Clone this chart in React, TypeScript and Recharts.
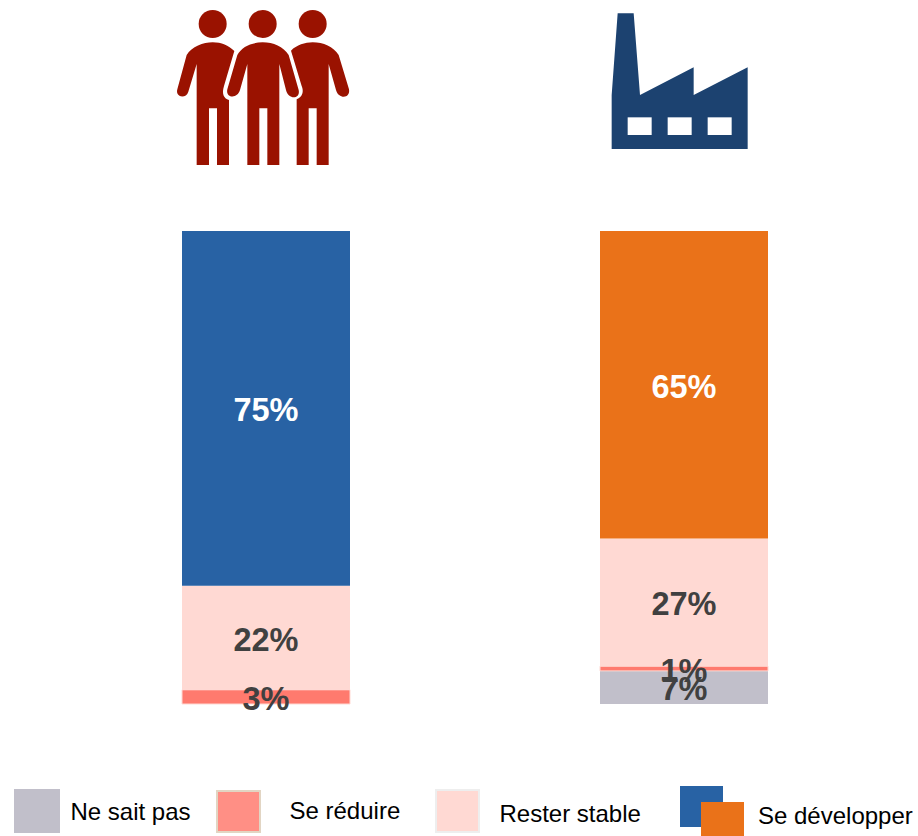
import React from "react";
import { BarChart, Bar, XAxis, YAxis, Cell, LabelList } from "recharts";

const categories = ["Population", "Entreprises"];
const neSaitPas = [0, 7];
const seReduire = [3, 1];
const resterStable = [22, 27];
const seDevelopper = [75, 65];
const developperColors = ["#2862A4", "#EA7219"];

const rows = categories.map((name, i) => ({
  name,
  neSaitPas: neSaitPas[i],
  seReduire: seReduire[i],
  resterStable: resterStable[i],
  seDevelopper: seDevelopper[i],
}));

const FONT = "'Liberation Sans', Arial, sans-serif";
const fmt = (v: any) => (v ? `${v}%` : "");
const labelStyle = { fontFamily: FONT, fontSize: 32.5, fontWeight: 700, transform: "translateY(1.5px)" };

function Label({ dataKey, fill }: { dataKey: string; fill: string }) {
  return (
    <LabelList
      dataKey={dataKey}
      position="center"
      formatter={fmt}
      fill={fill}
      style={labelStyle}
    />
  );
}

function Swatch({ left, top, w, h, bg, border }: any) {
  return (
    <div
      style={{
        position: "absolute",
        left,
        top,
        width: w,
        height: h,
        background: bg,
        boxSizing: "border-box",
        border: border ? `2px solid ${border}` : "none",
      }}
    />
  );
}

function Txt({ left, baseline, children }: any) {
  return (
    <div
      style={{
        position: "absolute",
        left,
        top: baseline - 22,
        fontFamily: FONT,
        fontSize: 24,
        lineHeight: "28px",
        color: "#000",
        whiteSpace: "nowrap",
      }}
    >
      {children}
    </div>
  );
}

function Icons() {
  const red = "#9A1200";
  const navy = "#1C4270";
  return (
    <svg width={918} height={200} style={{ position: "absolute", left: 0, top: 0 }}>
      <g transform="translate(160,0) scale(0.33333)" fill={red}>
        <circle cx={158} cy={72} r={42} />
        <circle cx={308} cy={72} r={42} />
        <circle cx={458} cy={72} r={42} />
        <path d="M158 127 C185 127 205 137 223 153 L192 258 C185 280 190 295 207 300 L207 495 L171 495 L171 325 L147 325 L147 495 L110 495 L110 192 L85 275 C78 298 45 292 52 268 L80 165 C95 140 130 127 158 127 Z" />
        <path d="M308 127 C340 127 370 140 386 165 L416 270 C422 298 385 300 378 270 L358 192 L358 495 L322 495 L322 325 L298 325 L298 495 L262 495 L262 192 L240 270 C232 298 196 294 202 268 L232 165 C245 140 275 127 308 127 Z" />
        <path d="M458 127 C490 127 520 140 536 165 L567 268 C572 297 535 298 528 270 L506 192 L506 495 L470 495 L470 325 L446 325 L446 495 L410 495 L410 298 C428 290 432 275 425 258 L393 152 C410 135 435 127 458 127 Z" />
      </g>
      <g transform="translate(590,0) scale(0.33333)">
        <path
          fill={navy}
          d="M83 40 L131 40 L150 285 L311 202 L311 285 L473 202 L473 447 L65 447 L65 285 Z"
        />
        <rect x={113} y={352} width={72} height={53} fill="#fff" />
        <rect x={233} y={352} width={72} height={53} fill="#fff" />
        <rect x={353} y={352} width={72} height={53} fill="#fff" />
      </g>
    </svg>
  );
}

export default function App() {
  return (
    <div style={{ position: "absolute", left: 0, top: 0, width: 918, height: 836, overflow: "hidden", background: "#fff" }}>
      <BarChart
        width={918}
        height={836}
        data={rows}
        margin={{ top: 231, right: 25, bottom: 132, left: 57 }}
        barCategoryGap={0}
      >
        <XAxis dataKey="name" hide />
        <YAxis hide domain={[0, 100]} />
        <Bar dataKey="neSaitPas" stackId="a" barSize={168} fill="#C1BFCA" isAnimationActive={false}>
          <Label dataKey="neSaitPas" fill="#404040" />
        </Bar>
        <Bar dataKey="seReduire" stackId="a" barSize={168} fill="#FF7A6E" stroke="#FFD9D3" strokeWidth={1} isAnimationActive={false}>
          <Label dataKey="seReduire" fill="#404040" />
        </Bar>
        <Bar dataKey="resterStable" stackId="a" barSize={168} fill="#FFD9D3" isAnimationActive={false}>
          <Label dataKey="resterStable" fill="#404040" />
        </Bar>
        <Bar dataKey="seDevelopper" stackId="a" barSize={168} isAnimationActive={false}>
          {categories.map((c, i) => (
            <Cell key={c} fill={developperColors[i]} />
          ))}
          <Label dataKey="seDevelopper" fill="#FFFFFF" />
        </Bar>
      </BarChart>
      <Icons />
      <Swatch left={14} top={789} w={46} h={44} bg="#C1BFCA" />
      <Txt left={70.5} baseline={820}>Ne sait pas</Txt>
      <Swatch left={216} top={790} w={45} h={43} bg="#FF8F85" border="#E2D5C3" />
      <Txt left={289.5} baseline={819}>Se réduire</Txt>
      <Swatch left={435} top={789} w={45} h={44} bg="#FFD9D3" border="#EEEEEE" />
      <Txt left={499.5} baseline={822}>Rester stable</Txt>
      <Swatch left={680} top={786} w={43} h={41} bg="#2862A4" />
      <Swatch left={701} top={802} w={43} h={34} bg="#EA7219" />
      <Txt left={758} baseline={824}>Se développer</Txt>
    </div>
  );
}
